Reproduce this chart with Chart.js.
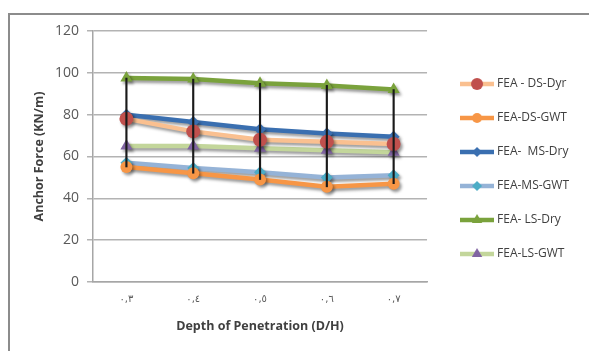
<!DOCTYPE html>
<html>
<head>
<meta charset="utf-8">
<title>Anchor Force vs Depth of Penetration</title>
<script src="https://cdn.jsdelivr.net/npm/chart.js@4.4.1/dist/chart.umd.min.js"></script>
<style>
  html, body { margin: 0; padding: 0; background: #fff; }
  #wrap { position: relative; width: 589px; height: 351px; overflow: hidden; }
  #frame { position: absolute; left: 8px; top: 13px; right: -4px; bottom: -4px;
           border-top: 2px solid #8c8c8c; border-left: 2px solid #8c8c8c; }
  #anchorChart { position: absolute; left: 0; top: 0; }
</style>
</head>
<body>
<div id="wrap">
  <div id="frame"></div>
  <canvas id="anchorChart" width="589" height="351"></canvas>
</div>
<script>
// x categories (D/H), written as in the source figure
const depthLabels = ["٠,٣", "٠,٤", "٠,٥", "٠,٦", "٠,٧"];

// anchor force, KN/m
const dsDry = [78, 72, 68, 67, 66];
const dsGwt = [55, 52, 49, 45.5, 47];
const msDry = [80, 76.5, 73, 71, 69.5];
const msGwt = [57, 54.5, 52.5, 50, 51];
const lsDry = [97.5, 97, 95, 94, 92];
const lsGwt = [65, 65, 64, 63, 62];

const seriesNames = ["FEA - DS-Dyr", "FEA-DS-GWT", "FEA-  MS-Dry", "FEA-MS-GWT", "FEA- LS-Dry", "FEA-LS-GWT"];
const yMin = 0, yMax = 120, yStep = 20;

const FONT = "'Open Sans', sans-serif";
Chart.defaults.font.family = FONT;

/* ---------- series styling ---------- */
const styles = [
  { line: "#fac090", mark: "#c0504d", shape: "circle",  r: 7 },
  { line: "#f79646", mark: "#f79646", shape: "circle",  r: 6 },
  { line: "#3a6fb0", mark: "#3a6fb0", shape: "rectRot", r: 6 },
  { line: "#95b3d7", mark: "#4bacc6", shape: "rectRot", r: 6 },
  { line: "#7aa23c", mark: "#7aa23c", shape: "triangle", r: 7 },
  { line: "#c3d69b", mark: "#8064a2", shape: "triangle", r: 7 }
];
const allSeries = [dsDry, dsGwt, msDry, msGwt, lsDry, lsGwt];

// legend icon: a short thick line with the marker in the middle
function legendIcon(st) {
  const c = document.createElement("canvas");
  c.width = 34; c.height = 14;
  const g = c.getContext("2d");
  g.strokeStyle = st.line;
  g.lineWidth = 4.5;
  g.beginPath(); g.moveTo(0, 7); g.lineTo(34, 7); g.stroke();
  g.fillStyle = st.mark;
  Chart.helpers.drawPoint(g, { pointStyle: st.shape, radius: st.r - 1, rotation: 0, borderWidth: 0 }, 17, 7);
  return c;
}

const lineSets = allSeries.map((vals, i) => ({
  type: "line",
  label: seriesNames[i],
  data: vals,
  borderColor: styles[i].line,
  borderWidth: 4.5,
  backgroundColor: styles[i].mark,
  pointBackgroundColor: styles[i].mark,
  pointBorderColor: styles[i].mark,
  pointBorderWidth: 0,
  pointStyle: styles[i].shape,
  pointRadius: styles[i].r,
  tension: 0,
  fill: false,
  order: 1,
  _icon: legendIcon(styles[i])
}));

// high-low lines between the largest and smallest series at each depth
const highLow = depthLabels.map((_, i) => {
  const col = allSeries.map(s => s[i]);
  return [Math.min(...col), Math.max(...col)];
});

const shadowPlugin = {
  id: "lineShadow",
  beforeDatasetDraw(chart, args) {
    if (args.meta.type !== "line") return;
    const ctx = chart.ctx;
    ctx.save();
    ctx.shadowColor = "rgba(0,0,0,0.4)";
    ctx.shadowBlur = 3;
    ctx.shadowOffsetX = 2;
    ctx.shadowOffsetY = 2.5;
  },
  afterDatasetDraw(chart, args) {
    if (args.meta.type !== "line") return;
    chart.ctx.restore();
  }
};

const chart = new Chart(document.getElementById("anchorChart"), {
  type: "line",
  data: {
    labels: depthLabels,
    datasets: [
      ...lineSets,
      {
        type: "bar",
        label: "high-low",
        data: highLow,
        backgroundColor: "#1a1a1a",
        barThickness: 1.5,
        grouped: false,
        order: 0
      }
    ]
  },
  options: {
    responsive: false,
    animation: false,
    devicePixelRatio: 1,
    layout: { padding: { left: 32, top: 31, right: -6, bottom: 17 } },
    plugins: {
      tooltip: { enabled: false },
      legend: {
        position: "right",
        align: "start",
        title: { display: true, text: " ", font: { size: 10 }, padding: { top: 0, bottom: 13 } },
        labels: {
          usePointStyle: true,
          pointStyleWidth: 28,
          boxHeight: 12,
          padding: 22,
          color: "#404040",
          font: { family: FONT, size: 12 },
          filter: item => item.datasetIndex < allSeries.length,
          generateLabels: chart => chart.data.datasets
            .map((ds, i) => ({
              text: ds.label,
              pointStyle: ds._icon,
              fillStyle: ds.borderColor,
              strokeStyle: ds.borderColor,
              lineWidth: 0,
              hidden: false,
              fontColor: "#404040",
              datasetIndex: i
            }))
        }
      }
    },
    scales: {
      x: {
        offset: true,
        grid: { display: false, drawTicks: false },
        border: { display: true, color: "#a6a6a6", width: 1.5 },
        ticks: { color: "#595959", font: { family: "'DejaVu Sans', sans-serif", size: 10 }, padding: 11 },
        title: {
          display: true,
          text: "Depth of Penetration (D/H)",
          color: "#404040",
          font: { family: FONT, size: 12.5, weight: "bold" },
          padding: { top: 3, bottom: 0 }
        }
      },
      y: {
        min: yMin,
        max: yMax,
        ticks: { stepSize: yStep, color: "#595959", font: { family: FONT, size: 14 }, padding: 8 },
        grid: { color: "#b3b3b3", lineWidth: 1.5, drawTicks: true, tickLength: 6 },
        border: { display: true, color: "#a6a6a6", width: 1.5 },
        title: {
          display: true,
          text: "Anchor Force (KN/m)",
          color: "#404040",
          font: { family: FONT, size: 12.5, weight: "bold" },
          padding: { top: 0, bottom: 0 }
        }
      }
    }
  },
  plugins: [shadowPlugin]
});

// wider gap between the plot and the legend: grow the legend box leftwards,
// then draw its items shifted back to the right
const LEGEND_GAP = 30, LEGEND_SHIFT = 14;
const baseFit = chart.legend.fit;
chart.legend.fit = function () {
  baseFit.call(this);
  this.width += LEGEND_GAP;
};
const baseDraw = chart.legend.draw;
chart.legend.draw = function () {
  const ctx = this.ctx;
  ctx.save();
  ctx.translate(LEGEND_SHIFT, 0);
  baseDraw.call(this);
  ctx.restore();
};
chart.update();
</script>
</body>
</html>
